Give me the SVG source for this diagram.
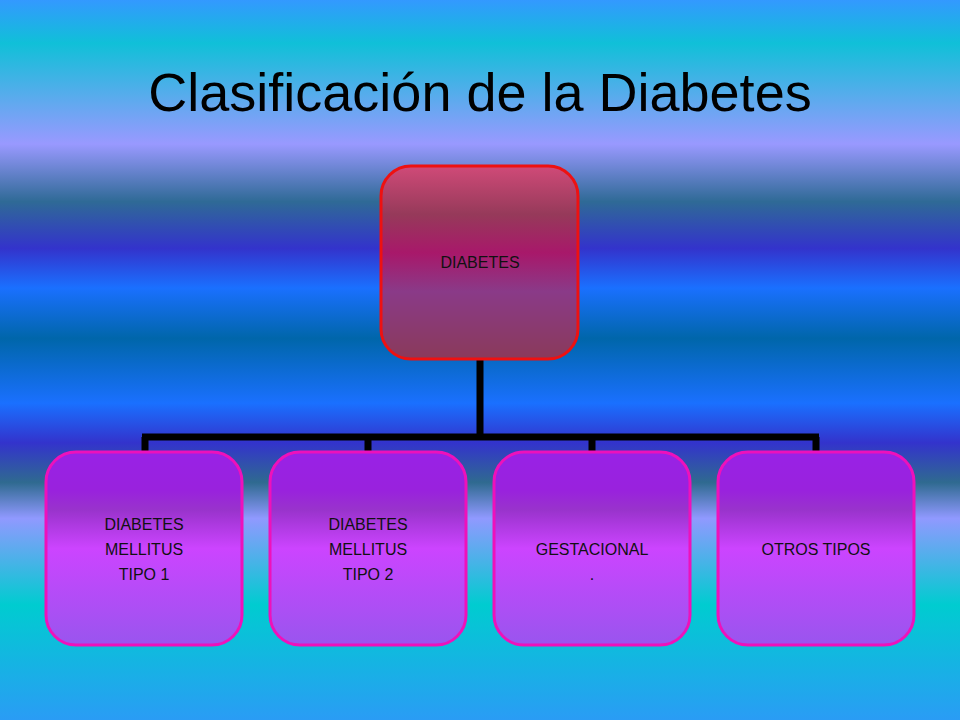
<svg xmlns="http://www.w3.org/2000/svg" width="960" height="720" viewBox="0 0 960 720">
<defs>
<linearGradient id="bg" x1="0" y1="0" x2="0" y2="1">
<stop offset="0" stop-color="#3399ff"/>
<stop offset="0.06" stop-color="#10c0d8"/>
<stop offset="0.2" stop-color="#9999ff"/>
<stop offset="0.28" stop-color="#2f6a96"/>
<stop offset="0.345" stop-color="#3333cc"/>
<stop offset="0.4" stop-color="#1a70ff"/>
<stop offset="0.47" stop-color="#0066aa"/>
<stop offset="0.56" stop-color="#1a70ff"/>
<stop offset="0.615" stop-color="#3333cc"/>
<stop offset="0.67" stop-color="#2f6a90"/>
<stop offset="0.72" stop-color="#9099ff"/>
<stop offset="0.84" stop-color="#00ccd0"/>
<stop offset="1" stop-color="#2a9cf5"/>
</linearGradient>
<linearGradient id="rootg" x1="0" y1="0" x2="0" y2="1">
<stop offset="0" stop-color="#d04a78"/>
<stop offset="0.25" stop-color="#963a5a"/>
<stop offset="0.45" stop-color="#a8186a"/>
<stop offset="0.65" stop-color="#8a3a88"/>
<stop offset="1" stop-color="#8a3a5a"/>
</linearGradient>
<linearGradient id="childg" x1="0" y1="0" x2="0" y2="1">
<stop offset="0" stop-color="#9922e6"/>
<stop offset="0.2" stop-color="#9922dd"/>
<stop offset="0.3" stop-color="#9933cc"/>
<stop offset="0.5" stop-color="#cc44ff"/>
<stop offset="1" stop-color="#9955ee"/>
</linearGradient>
<style>
.t{font-family:"Liberation Sans",Arial,sans-serif;fill:#111;font-size:16px;text-anchor:middle}
.c{fill:url(#childg);stroke:#ee11bb;stroke-width:3}
.ln{stroke:#000;stroke-width:7;fill:none}
</style>
</defs>
<rect width="960" height="720" fill="url(#bg)"/>
<text x="480" y="111" font-family="Liberation Sans,Arial,sans-serif" font-size="54" text-anchor="middle" fill="#000">Clasificación de la Diabetes</text>
<g id="connectors">
<path class="ln" d="M480 359V437M142 437H819M145 437V451M368 437V451M592 437V451M816 437V451"/>
</g>
<g id="root">
<rect x="381" y="166" width="197" height="193" rx="30" fill="url(#rootg)" stroke="#ee1111" stroke-width="3"/>
<text class="t" x="480" y="268">DIABETES</text>
</g>
<g id="n1">
<rect class="c" x="46" y="452" width="196" height="193" rx="30"/>
<text class="t" x="144" y="530">DIABETES</text><text class="t" x="144" y="555"> MELLITUS</text><text class="t" x="144" y="580">TIPO 1</text>
</g>
<g id="n2">
<rect class="c" x="270" y="452" width="196" height="193" rx="30"/>
<text class="t" x="368" y="530">DIABETES</text><text class="t" x="368" y="555">MELLITUS</text><text class="t" x="368" y="580">TIPO 2</text>
</g>
<g id="n3">
<rect class="c" x="494" y="452" width="196" height="193" rx="30"/>
<text class="t" x="592" y="555">GESTACIONAL</text><text class="t" x="592" y="580">.</text>
</g>
<g id="n4">
<rect class="c" x="718" y="452" width="196" height="193" rx="30"/>
<text class="t" x="816" y="555">OTROS TIPOS</text>
</g>
</svg>
